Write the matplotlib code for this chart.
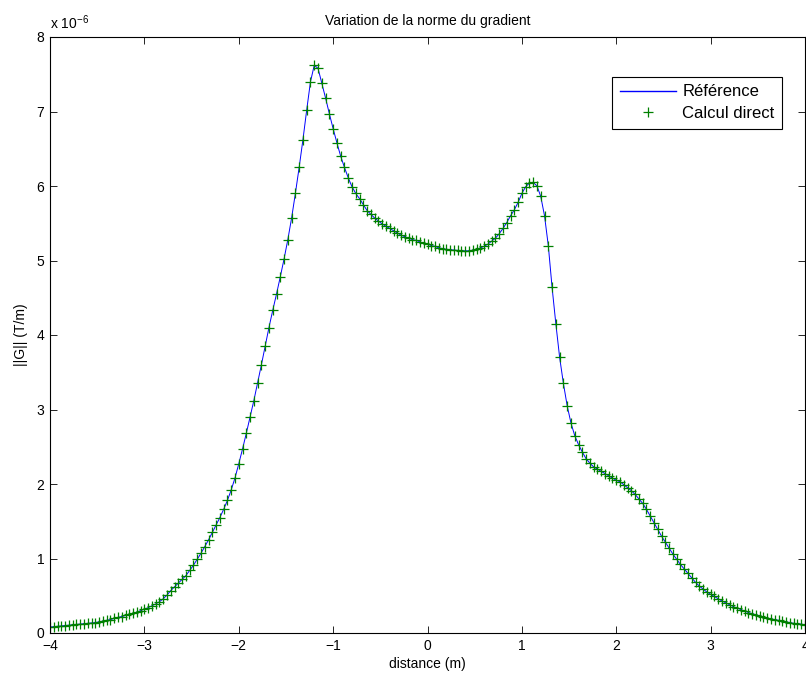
import numpy as np
import matplotlib
matplotlib.use("Agg")
import matplotlib.pyplot as plt
from matplotlib.ticker import FuncFormatter

plt.rcParams['font.family'] = ['Liberation Sans', 'DejaVu Sans']
plt.rcParams['mathtext.fontset'] = 'custom'
plt.rcParams['mathtext.rm'] = 'Liberation Sans'

# ||G|| in units of 1e-6 T/m, sampled every 0.04 m from -4 to 4
grad_norm = [
    0.08, 0.085, 0.09, 0.095, 0.10, 0.105, 0.11, 0.115, 0.12, 0.125,
    0.13, 0.135, 0.14, 0.15, 0.16, 0.17, 0.18, 0.195, 0.21, 0.22,
    0.235, 0.25, 0.265, 0.28, 0.30, 0.32, 0.34, 0.365, 0.39, 0.42,
    0.46, 0.51, 0.57, 0.62, 0.67, 0.72, 0.77, 0.84, 0.91, 0.99,
    1.07, 1.16, 1.25, 1.35, 1.45, 1.55, 1.66, 1.78, 1.92, 2.08,
    2.27, 2.47, 2.68, 2.90, 3.12, 3.36, 3.60, 3.85, 4.10, 4.33,
    4.55, 4.78, 5.02, 5.28, 5.57, 5.90, 6.25, 6.62, 7.02, 7.40,
    7.62, 7.58, 7.38, 7.18, 6.97, 6.77, 6.58, 6.40, 6.25, 6.11,
    5.99, 5.90, 5.83, 5.75, 5.67, 5.62, 5.57, 5.53, 5.49, 5.46,
    5.43, 5.40, 5.37, 5.34, 5.32, 5.30, 5.28, 5.27, 5.25, 5.23,
    5.22, 5.20, 5.19, 5.17, 5.16, 5.15, 5.145, 5.14, 5.135, 5.13,
    5.13, 5.13, 5.14, 5.15, 5.17, 5.19, 5.22, 5.26, 5.30, 5.36,
    5.43, 5.51, 5.60, 5.68, 5.78, 5.90, 5.99, 6.04, 6.05, 6.00,
    5.86, 5.60, 5.20, 4.64, 4.15, 3.70, 3.35, 3.05, 2.82, 2.65,
    2.53, 2.43, 2.34, 2.28, 2.23, 2.20, 2.17, 2.14, 2.11, 2.08,
    2.05, 2.03, 1.99, 1.95, 1.91, 1.86, 1.80, 1.74, 1.66, 1.57,
    1.48, 1.39, 1.30, 1.22, 1.14, 1.06, 0.99, 0.92, 0.86, 0.80,
    0.74, 0.68, 0.63, 0.59, 0.55, 0.52, 0.49, 0.46, 0.43, 0.405,
    0.38, 0.355, 0.335, 0.315, 0.295, 0.275, 0.26, 0.245, 0.23, 0.215,
    0.20, 0.19, 0.18, 0.17, 0.16, 0.15, 0.14, 0.13, 0.125, 0.12,
    0.11,
]
x_range = (-4, 4)
x_ticks = [-4, -3, -2, -1, 0, 1, 2, 3, 4]
y_ticks = [0, 1, 2, 3, 4, 5, 6, 7, 8]

d = np.linspace(x_range[0], x_range[1], len(grad_norm))
g = np.array(grad_norm) * 1e-6

fig = plt.figure(figsize=(8.06, 6.77), dpi=100)
ax = fig.add_axes([50/806, 44/677, 755/806, 596/677])

ax.plot(d, g, color='#0000ff', lw=0.7, label='Référence')
ax.plot(d, g, ls='none', marker='+', ms=7, mew=0.9, color='#008000', label='Calcul direct')

ax.set_xlim(*x_range)
ax.set_ylim(0, 8e-6)
ax.set_xticks(x_ticks)
ax.set_yticks([v * 1e-6 for v in y_ticks])
ax.yaxis.set_major_formatter(FuncFormatter(lambda v, p: '%d' % round(v * 1e6)))
ax.tick_params(direction='in', top=True, right=True, length=5, width=0.6, labelsize=10, pad=4)
for s in ax.spines.values():
    s.set_linewidth(0.8)

ax.text(0, 1.008, r'x 10$^{-6}$', transform=ax.transAxes, fontsize=10, va='bottom')
ax.set_title('Variation de la norme du gradient', fontsize=10, pad=9)
ax.set_xlabel('distance (m)', fontsize=10, labelpad=3)
ax.set_ylabel('||G|| (T/m)', fontsize=10, labelpad=6)

leg = ax.legend(loc='upper right', bbox_to_anchor=(0.9695, 0.933), borderaxespad=0,
                fontsize=12, fancybox=False, framealpha=1, edgecolor='black',
                borderpad=0.45, handlelength=3.4, handletextpad=0.35, labelspacing=0.4)
leg.get_frame().set_linewidth(0.8)
leg.get_lines()[0].set_linewidth(1.0)

fig.savefig('out.png', dpi=100)
